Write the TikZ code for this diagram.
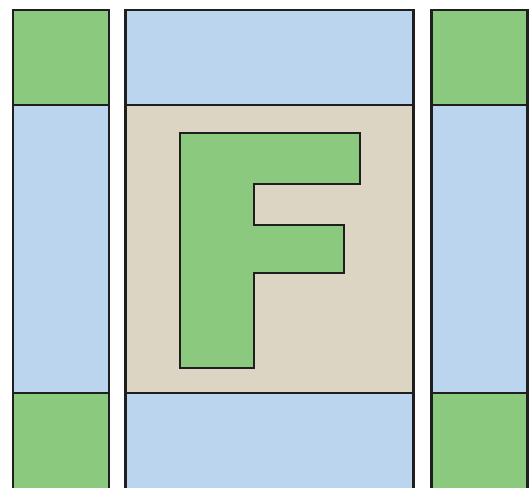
\documentclass[tikz,border=0pt]{standalone}
\definecolor{fgreen}{HTML}{8BC97E}
\definecolor{fblue}{HTML}{BBD5EE}
\definecolor{ftan}{HTML}{DDD5C3}
\tikzset{
  panel/.style={draw=black!88, line width=2.6pt, line join=miter},
  letter/.style={draw=black!88, line width=2.3pt, fill=fgreen, line join=miter}
}
\begin{document}
\begin{tikzpicture}[x=1pt,y=-1pt]
\useasboundingbox (0,0) rectangle (532,487);
\clip (0,0) rectangle (532,487);
% left column
\draw[panel, fill=fgreen] (13,10) rectangle (109,105);
\draw[panel, fill=fblue] (13,105) rectangle (109,393);
\draw[panel, fill=fgreen] (13,393) rectangle (109,495);
% middle column
\draw[panel, fill=fblue] (125.7,10) rectangle (413.3,105);
\draw[panel, fill=ftan] (125.7,105) rectangle (413.3,393);
\draw[panel, fill=fblue] (125.7,393) rectangle (413.3,495);
% right column
\draw[panel, fill=fgreen] (431.7,10) rectangle (527.7,105);
\draw[panel, fill=fblue] (431.7,105) rectangle (527.7,393);
\draw[panel, fill=fgreen] (431.7,393) rectangle (527.7,495);
% letter F
\draw[letter] (180.3,133.3) -- (360.3,133.3) -- (360.3,184.3) -- (254.3,184.3)
  -- (254.3,225) -- (344.3,225) -- (344.3,272.7) -- (254.3,272.7)
  -- (254.3,368.3) -- (180.3,368.3) -- cycle;
\end{tikzpicture}
\end{document}
